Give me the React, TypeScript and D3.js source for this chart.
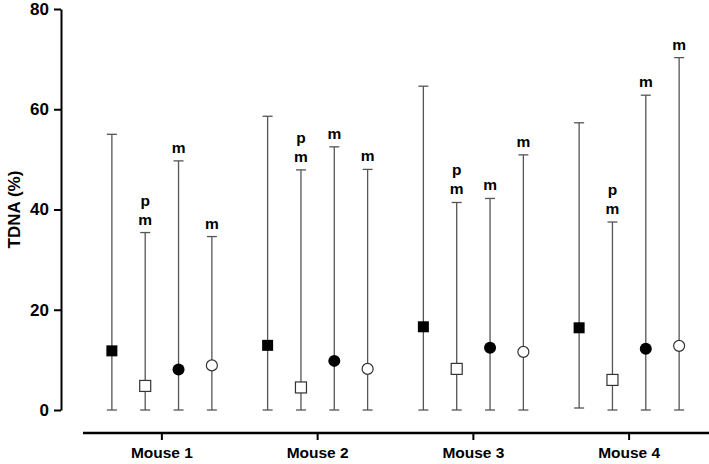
import React, { useEffect, useRef } from "react";
import * as d3 from "d3";

const mice = ["Mouse 1", "Mouse 2", "Mouse 3", "Mouse 4"];
const seriesNames = ["filledSquare", "openSquare", "filledCircle", "openCircle"];
const yTicks = [0, 20, 40, 60, 80];

// central value per mouse, one array per series
const filledSquareMid = [11.8, 12.9, 16.6, 16.4];
const openSquareMid = [4.8, 4.5, 8.2, 6.0];
const filledCircleMid = [8.1, 9.8, 12.4, 12.2];
const openCircleMid = [8.9, 8.2, 11.6, 12.8];

// whisker tops
const filledSquareHigh = [55.0, 58.6, 64.6, 57.3];
const openSquareHigh = [35.4, 47.9, 41.4, 37.5];
const filledCircleHigh = [49.7, 52.5, 42.2, 62.8];
const openCircleHigh = [34.6, 48.0, 50.9, 70.3];

// whisker bottoms
const filledSquareLow = [0, 0, 0, 0.4];
const openSquareLow = [0, 0, 0, 0];
const filledCircleLow = [0, 0, 0, 0];
const openCircleLow = [0, 0, 0, 0];

// significance letters above each whisker
const filledSquareMarks = [[], [], [], []];
const openSquareMarks = [["p", "m"], ["p", "m"], ["p", "m"], ["p", "m"]];
const filledCircleMarks = [["m"], ["m"], ["m"], ["m"]];
const openCircleMarks = [["m"], ["m"], ["m"], ["m"]];

const mids = [filledSquareMid, openSquareMid, filledCircleMid, openCircleMid];
const highs = [filledSquareHigh, openSquareHigh, filledCircleHigh, openCircleHigh];
const lows = [filledSquareLow, openSquareLow, filledCircleLow, openCircleLow];
const marks = [filledSquareMarks, openSquareMarks, filledCircleMarks, openCircleMarks];

export default function App() {
  const svgRef = useRef(null);

  useEffect(() => {
    const svg = d3.select(svgRef.current);
    svg.selectAll("*").remove();
    const width = 709;
    const font = "Liberation Sans, Arial, sans-serif";

    const y = d3.scaleLinear().domain([0, 80]).range([410, 9]);
    const x = d3.scaleBand().domain(mice).range([84, 707]).padding(0);
    const inner = d3.scalePoint().domain(seriesNames).range([-50, 50]);

    // y axis
    const yAxis = svg
      .append("g")
      .attr("transform", "translate(61,0)")
      .call(d3.axisLeft(y).tickValues(yTicks).tickSize(7).tickSizeOuter(0).tickPadding(5));
    yAxis.select(".domain").attr("stroke", "#000").attr("stroke-width", 2);
    yAxis.selectAll(".tick line").attr("stroke", "#000").attr("stroke-width", 2);
    yAxis
      .selectAll(".tick text")
      .attr("font-family", font)
      .attr("font-size", 17)
      .attr("font-weight", "bold")
      .attr("fill", "#000");

    svg
      .append("text")
      .attr("transform", `translate(20,${y(40)}) rotate(-90)`)
      .attr("text-anchor", "middle")
      .attr("font-family", font)
      .attr("font-size", 17)
      .attr("font-weight", "bold")
      .text("TDNA (%)");

    // x axis
    const xAxis = svg
      .append("g")
      .attr("transform", "translate(0,433)")
      .call(d3.axisBottom(x).tickSize(7).tickSizeOuter(0).tickPadding(7));
    xAxis.select(".domain").remove();
    xAxis
      .append("line")
      .attr("x1", 83)
      .attr("x2", width)
      .attr("stroke", "#000")
      .attr("stroke-width", 2.5);
    xAxis.selectAll(".tick line").attr("stroke", "#000").attr("stroke-width", 2);
    xAxis
      .selectAll(".tick text")
      .attr("font-family", font)
      .attr("font-size", 15.5)
      .attr("font-weight", "bold")
      .attr("fill", "#000");

    const points = [];
    seriesNames.forEach((s, si) => {
      mice.forEach((m, mi) => {
        points.push({
          s,
          cx: x(m) + x.bandwidth() / 2 + inner(s),
          mid: mids[si][mi],
          high: highs[si][mi],
          low: lows[si][mi],
          marks: marks[si][mi],
        });
      });
    });

    const g = svg.append("g");
    const bars = g.selectAll("g.bar").data(points).enter().append("g");

    bars
      .append("line")
      .attr("x1", (d) => d.cx)
      .attr("x2", (d) => d.cx)
      .attr("y1", (d) => y(d.low))
      .attr("y2", (d) => y(d.high))
      .attr("stroke", "#555")
      .attr("stroke-width", 1.3);
    [(d) => d.low, (d) => d.high].forEach((f) => {
      bars
        .append("line")
        .attr("x1", (d) => d.cx - 5)
        .attr("x2", (d) => d.cx + 5)
        .attr("y1", (d) => y(f(d)))
        .attr("y2", (d) => y(f(d)))
        .attr("stroke", "#555")
        .attr("stroke-width", 1.3);
    });

    bars
      .filter((d) => d.s.endsWith("Square"))
      .append("rect")
      .attr("x", (d) => d.cx - 5.5)
      .attr("y", (d) => y(d.mid) - 5.5)
      .attr("width", 11)
      .attr("height", 11)
      .attr("fill", (d) => (d.s === "filledSquare" ? "#000" : "#fff"))
      .attr("stroke", (d) => (d.s === "filledSquare" ? "none" : "#333"))
      .attr("stroke-width", 1.2);

    bars
      .filter((d) => d.s.endsWith("Circle"))
      .append("circle")
      .attr("cx", (d) => d.cx)
      .attr("cy", (d) => y(d.mid))
      .attr("r", (d) => (d.s === "filledCircle" ? 6 : 5.5))
      .attr("fill", (d) => (d.s === "filledCircle" ? "#000" : "#fff"))
      .attr("stroke", (d) => (d.s === "filledCircle" ? "none" : "#333"))
      .attr("stroke-width", 1.2);

    bars
      .selectAll("text")
      .data((d) => d.marks.map((t, i) => ({ t, cx: d.cx, top: d.high, k: d.marks.length - 1 - i })))
      .enter()
      .append("text")
      .attr("x", (d) => d.cx)
      .attr("y", (d) => y(d.top) - 8 - d.k * 19)
      .attr("text-anchor", "middle")
      .attr("font-family", font)
      .attr("font-size", 15.5)
      .attr("font-weight", "bold")
      .text((d) => d.t);
  }, []);

  return (
    <svg
      ref={svgRef}
      width="709"
      height="464"
      style={{ position: "absolute", left: 0, top: 0, background: "#fff" }}
    />
  );
}
